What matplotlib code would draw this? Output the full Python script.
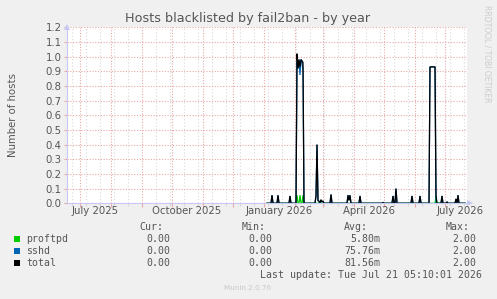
import matplotlib
matplotlib.use("Agg")
import matplotlib.pyplot as plt
import matplotlib.dates as mdates
import matplotlib.transforms as mtransforms
import pandas as pd
import numpy as np

# ---------------- data ----------------
title = "Hosts blacklisted by fail2ban - by year"
ylabel = "Number of hosts"
view_start = "2025-06-18"
view_end = "2026-07-23"
data_start = "2026-01-04"
data_end = "2026-07-21"

series_names = ["proftpd", "sshd", "total"]
series_colors = ["#00CC00", "#0066B3", "#000000"]

sshd_dates = ["2026-01-09", "2026-01-15", "2026-01-27",
              "2026-02-03", "2026-02-04", "2026-02-05", "2026-02-06", "2026-02-07",
              "2026-02-08", "2026-02-09",
              "2026-02-22", "2026-02-23", "2026-02-24", "2026-02-25", "2026-02-26",
              "2026-02-27", "2026-02-28", "2026-03-01",
              "2026-03-09", "2026-03-26", "2026-03-27", "2026-03-28", "2026-04-07",
              "2026-04-30", "2026-05-10", "2026-05-13", "2026-05-29", "2026-06-06",
              "2026-06-16", "2026-06-17", "2026-06-18", "2026-06-19", "2026-06-20", "2026-06-21",
              "2026-06-28", "2026-07-03", "2026-07-12", "2026-07-14"]
sshd_values = [0.055, 0.055, 0.05,
               0.965, 0.92, 0.98, 0.875, 0.98,
               0.97, 0.905,
               0.05, 0.40, 0.02, 0.01, 0.005,
               0.02, 0.01, 0.015,
               0.06, 0.055, 0.02, 0.055, 0.05,
               0.005, 0.05, 0.10, 0.05, 0.05,
               0.93, 0.93, 0.93, 0.93, 0.93, 0.93,
               0.05, 0.01, 0.03, 0.055]

proftpd_dates = ["2026-02-03", "2026-02-06", "2026-02-09",
                 "2026-02-25", "2026-02-27", "2026-06-22"]
proftpd_values = [0.055, 0.055, 0.055,
                  0.005, 0.005, 0.05]

legend_cur = ["0.00", "0.00", "0.00"]
legend_min = ["0.00", "0.00", "0.00"]
legend_avg = ["5.80m", "75.76m", "81.56m"]
legend_max = ["2.00", "2.00", "2.00"]
last_update = "Last update: Tue Jul 21 05:10:01 2026"
munin_version = "Munin 2.0.76"
side_text = "RRDTOOL / TOBI OETIKER"

xlabel_dates = ["2025-07-16", "2025-10-16", "2026-01-16", "2026-04-16", "2026-07-16"]
xlabel_texts = ["July 2025", "October 2025", "January 2026", "April 2026", "July 2026"]

# ---------------- build series ----------------
days = pd.date_range(data_start, data_end, freq="D")
sshd = pd.Series(0.0, index=days)
sshd.loc[pd.to_datetime(sshd_dates)] = sshd_values
proftpd = pd.Series(0.0, index=days)
proftpd.loc[pd.to_datetime(proftpd_dates)] = proftpd_values
total = sshd + proftpd
series = [proftpd, sshd, total]

# ---------------- figure ----------------
W, H = 497, 299
BG = "#F0F0F0"
fig = plt.figure(figsize=(W / 100, H / 100), dpi=100, facecolor=BG)
x0, x1, ytop, ybot = 67, 467, 27.3, 203.3
ax = fig.add_axes([x0 / W, (H - ybot) / H, (x1 - x0) / W, (ybot - ytop) / H])
ax.set_facecolor("white")

vs, ve = pd.Timestamp(view_start), pd.Timestamp(view_end)
ax.set_xlim(vs, ve)
ax.set_ylim(0, 1.2)

# grid
MGRID = "#E8A8A8"
GRID = "#D8D8D8"
ax.xaxis.set_major_locator(mdates.MonthLocator())
ax.xaxis.set_minor_locator(mdates.WeekdayLocator(byweekday=mdates.MO, interval=2))
ax.xaxis.set_major_formatter(plt.NullFormatter())
ax.xaxis.set_minor_formatter(plt.NullFormatter())
ax.grid(True, which="minor", axis="x", color=GRID, linestyle=(0, (1, 2)), linewidth=0.8)
ax.grid(True, which="major", axis="x", color=MGRID, linestyle=(0, (1, 1.5)), linewidth=0.8)
yt = np.round(np.arange(0, 1.21, 0.1), 1)
ax.set_yticks(yt)
ax.set_yticklabels(["%.1f" % v for v in yt])
ax.grid(True, which="major", axis="y", color=MGRID, linestyle=(0, (1, 1.5)), linewidth=0.8)
ax.set_axisbelow(True)
ax.tick_params(axis="x", which="major", length=3, width=0.8, color=MGRID, direction="out")
ax.tick_params(axis="x", which="minor", length=2, width=0.8, color=GRID, direction="out")
ax.tick_params(axis="y", length=2, width=0.8, color=MGRID, labelsize=7.3,
               labelcolor="#555555", pad=2)

for s in ["top", "right"]:
    ax.spines[s].set_visible(False)
AXC = "#C8C8F4"
ax.spines["left"].set_color(AXC)
ax.spines["bottom"].set_color(AXC)
ax.spines["left"].set_linewidth(0.8)
ax.spines["bottom"].set_linewidth(0.8)

# data lines
for s, c in zip(series, series_colors):
    ax.plot(s.index, s.values, color=c, linewidth=0.9, solid_joinstyle="miter")

# arrows at axis ends
ax.plot([0], [1.0], marker="^", markersize=5, color=AXC, transform=ax.transAxes,
        clip_on=False, markeredgewidth=0)
ax.plot([1.008], [0.0], marker=">", markersize=5, color=AXC, transform=ax.transAxes,
        clip_on=False, markeredgewidth=0)

# x labels
trans = mtransforms.blended_transform_factory(ax.transData, fig.transFigure)
for d, t in zip(xlabel_dates, xlabel_texts):
    ax.text(mdates.date2num(pd.Timestamp(d)), (H - 211.5) / H, t, transform=trans,
            ha="center", va="center", fontsize=7.3, color="#555555")

# title & labels
fig.text(248 / W, (H - 18.5) / H, title, ha="center", va="center", fontsize=9.2, color="#555555")
fig.text(13 / W, (H - 115) / H, ylabel, ha="center", va="center", rotation=90,
         fontsize=7.3, color="#555555")
fig.text(487.5 / W, (H - 53.5) / H, side_text, ha="center", va="center", rotation=-90,
         fontsize=5.5, color="#CCCCCC")

# legend table
mono = "DejaVu Sans Mono"
fs = 7.1
tc = "#555555"
fig.text(163.5 / W, (H - 226.7) / H, "Cur:", ha="right", va="center", family=mono, fontsize=fs, color=tc)
fig.text(265.7 / W, (H - 226.7) / H, "Min:", ha="right", va="center", family=mono, fontsize=fs, color=tc)
fig.text(367.7 / W, (H - 226.7) / H, "Avg:", ha="right", va="center", family=mono, fontsize=fs, color=tc)
fig.text(470 / W, (H - 226.7) / H, "Max:", ha="right", va="center", family=mono, fontsize=fs, color=tc)
rows_y = [239.3, 251.3, 263.3]
for i, name in enumerate(series_names):
    yy = (H - rows_y[i]) / H
    fig.patches.append(plt.Rectangle((14 / W, (H - rows_y[i] - 3) / H), 6 / W, 6 / H,
                                     transform=fig.transFigure, facecolor=series_colors[i],
                                     edgecolor="none"))
    fig.text(26 / W, yy, name, ha="left", va="center", family=mono, fontsize=fs, color=tc)
    fig.text(170 / W, yy, legend_cur[i], ha="right", va="center", family=mono, fontsize=fs, color=tc)
    fig.text(272 / W, yy, legend_min[i], ha="right", va="center", family=mono, fontsize=fs, color=tc)
    fig.text(380.7 / W, yy, legend_avg[i], ha="right", va="center", family=mono, fontsize=fs, color=tc)
    fig.text(476.7 / W, yy, legend_max[i], ha="right", va="center", family=mono, fontsize=fs, color=tc)
fig.text(482.5 / W, (H - 275) / H, last_update, ha="right", va="center", family=mono,
         fontsize=fs, color=tc)
fig.text(248 / W, (H - 288.5) / H, munin_version, ha="center", va="center",
         fontsize=5.2, color="#C8C8C8")

fig.savefig("out.png", dpi=100, facecolor=BG)
